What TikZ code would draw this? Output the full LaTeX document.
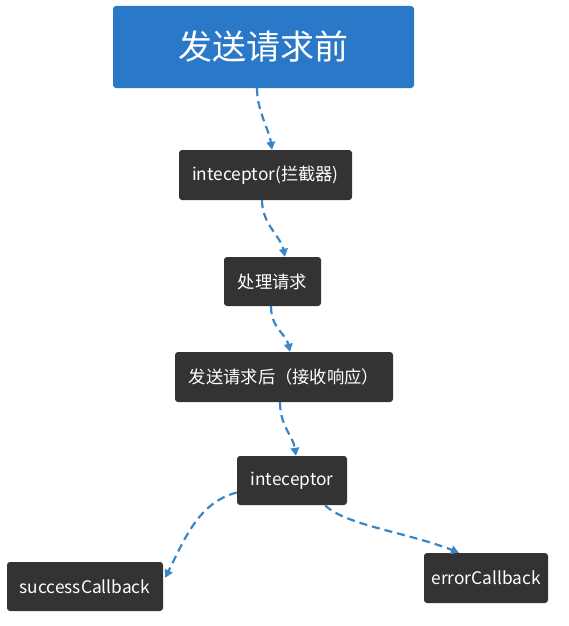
\documentclass[tikz,border=0pt]{standalone}
\usepackage{fontspec}
\setmainfont{Noto Sans CJK SC}
\usetikzlibrary{arrows.meta}
\definecolor{headblue}{HTML}{2A78C8}
\definecolor{boxdark}{HTML}{333333}
\definecolor{linkblue}{HTML}{3A85C6}
\tikzset{
  headbox/.style={fill=headblue, rounded corners=3pt, text=white, font=\fontsize{34}{38}\selectfont, inner sep=0pt},
  stepbox/.style={fill=boxdark, rounded corners=3pt, text=white, font=\fontsize{17.3}{20}\selectfont, inner sep=0pt},
  link/.style={linkblue, line width=2.2pt, dash pattern=on 8pt off 5pt, -{Triangle[length=8pt,width=8.5pt]}},
}
\begin{document}
\begin{tikzpicture}[x=1pt,y=-1pt]
\useasboundingbox (0,0) rectangle (568,626);
\node[headbox, minimum width=301pt, minimum height=82pt] (head) at (263.5,47) {发送请求前};
\node[stepbox, minimum width=173pt, minimum height=50pt] (icp) at (265.5,175) {inteceptor(拦截器)};
\node[stepbox, minimum width=97pt, minimum height=49pt] (proc) at (272.5,281.5) {处理请求};
\node[stepbox, minimum width=218pt, minimum height=50pt] (after) at (284,377) {发送请求后（接收响应）};
\node[stepbox, minimum width=110pt, minimum height=49pt] (icp2) at (292,480.5) {inteceptor};
\node[stepbox, minimum width=156pt, minimum height=49pt] (succ) at (85,586.5) {successCallback};
\node[stepbox, minimum width=124pt, minimum height=50pt] (err) at (486,578) {errorCallback};

\draw[link] ([xshift=-6.5pt]head.south) .. controls +(0,22) and +(-3,-20) .. ([xshift=6.5pt]icp.north);
\draw[link] ([xshift=-3.5pt]icp.south) .. controls +(0,24) and +(-4,-20) .. ([xshift=12.5pt]proc.north);
\draw[link] ([xshift=-1.5pt]proc.south) .. controls +(0,22) and +(-4,-18) .. ([xshift=6pt]after.north);
\draw[link] ([xshift=-4pt]after.south) .. controls +(0,24) and +(-3,-20) .. ([xshift=4pt]icp2.north);
\draw[link] ([yshift=-12pt]icp2.west) .. controls +(-38,10) and +(20,-40) .. ([xshift=2pt,yshift=-16pt]succ.north east);
\draw[link] ([xshift=33pt]icp2.south) .. controls +(20,20) and +(-50,-20) .. ([xshift=-27pt]err.north);
\end{tikzpicture}
\end{document}
